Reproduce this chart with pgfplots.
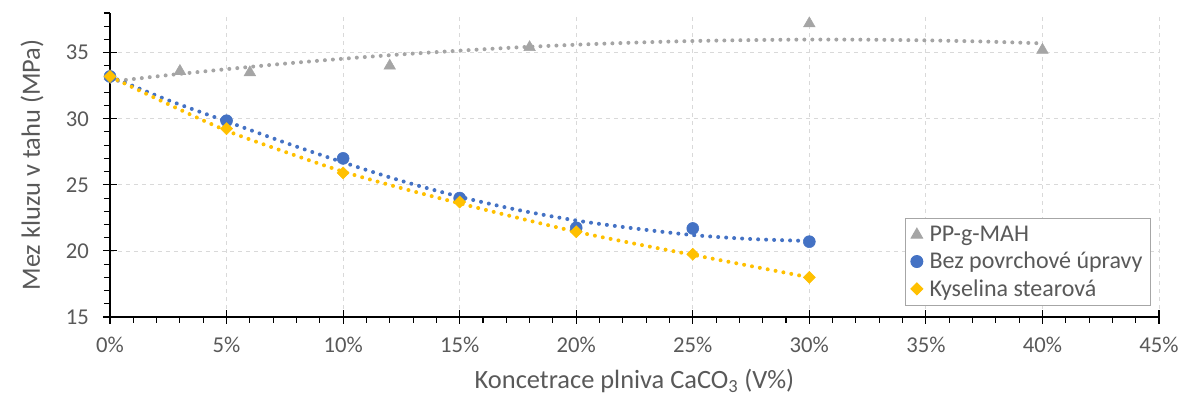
\documentclass[border=0pt]{standalone}
\usepackage{fontspec}
\setmainfont{Carlito}
\usepackage{pgfplots}
\pgfplotsset{compat=1.18}
\definecolor{cgrey}{HTML}{A5A5A5}
\definecolor{cblue}{HTML}{4472C4}
\definecolor{cyel}{HTML}{FFC000}
\definecolor{ctext}{HTML}{595959}
\definecolor{cgrid}{HTML}{D9D9D9}
\definecolor{cleg}{HTML}{A6A6A6}
\begin{document}
\begin{tikzpicture}
\path[use as bounding box] (-82.5pt,-59.25pt) rectangle (804pt,237.75pt);
\begin{axis}[
  at={(0pt,0pt)}, anchor=south west,
  scale only axis, width=786.75pt, height=228pt,
  xmin=0, xmax=45, ymin=15, ymax=38,
  axis lines=left,
  axis line style={-, black, line width=0.8pt},
  xtick={0,5,...,45}, ytick={15,20,...,35},
  minor xtick={0,1,...,45}, minor ytick={15,16,...,38},
  tick align=center,
  major tick length=10.5pt, minor tick length=4.5pt,
  every tick/.style={black, line width=0.8pt},
  minor x tick style={yshift=-2.25pt},
  minor y tick style={xshift=-2.25pt},
  grid=major,
  major grid style={cgrid, dashed, line width=0.6pt},
  /pgf/number format/assume math mode=true,
  xticklabel={\pgfmathprintnumber{\tick}\%},
  ticklabel style={font=\fontsize{17}{20}\selectfont, text=ctext},
  xticklabel style={yshift=-6pt},
  yticklabel style={xshift=-7pt},
  xlabel={Koncetrace plniva CaCO\textsubscript{3} (V\%)},
  ylabel={Mez kluzu v tahu (MPa)},
  every axis x label/.style={at={(axis description cs:0.5,0)}, yshift=-48pt, anchor=center,
    font=\fontsize{19.8}{22}\selectfont, text=ctext},
  every axis y label/.style={at={(axis description cs:0,0.5)}, xshift=-58.5pt, rotate=90, anchor=center,
    font=\fontsize{19.8}{22}\selectfont, text=ctext},
  legend style={at={(0.9924,0.0362)}, anchor=south east,
    font=\fontsize{18}{20}\selectfont, text=ctext, draw=cleg, line width=0.7pt,
    inner xsep=4pt, inner ysep=3.5pt, row sep=2.5pt},
  legend cell align=left,
]
% trend lines
\addplot[forget plot, cgrey, line width=3pt, line cap=round, dash pattern=on 0pt off 6pt, smooth] coordinates {
(0,32.80) (2.5,33.30) (5,33.75) (7.5,34.17) (10,34.54) (12.5,34.87) (15,35.15) (17.5,35.40)
(20,35.60) (22.5,35.76) (25,35.88) (27.5,35.95) (30,35.99) (32.5,35.98) (35,35.93) (37.5,35.84) (40,35.70)};
\addplot[forget plot, cblue, line width=3pt, line cap=round, dash pattern=on 0pt off 6pt, smooth] coordinates {
(0,33.2) (2.5,31.4) (5,29.8) (7.5,28.2) (10,26.7) (12.5,25.3) (15,24.1) (17.5,23.1)
(20,22.3) (22.5,21.7) (25,21.2) (27.5,20.9) (30,20.75)};
\addplot[forget plot, cyel, line width=3pt, line cap=round, dash pattern=on 0pt off 6pt, smooth] coordinates {
(0,33.2) (2.5,31.1) (5,29.1) (7.5,27.5) (10,26.0) (12.5,24.75) (15,23.6) (17.5,22.5)
(20,21.45) (22.5,20.55) (25,19.7) (27.5,18.85) (30,18.0)};
% markers
\addplot[only marks, mark=triangle*, mark size=5pt, color=cgrey] coordinates {
(0,33.2) (3,33.6) (6,33.5) (12,34.0) (18,35.4) (30,37.2) (40,35.2)};
\addlegendentry{\hspace{3pt}PP-g-MAH}
\addplot[only marks, mark=*, mark size=4.5pt, color=cblue] coordinates {
(0,33.2) (5,29.85) (10,27.0) (15,24.0) (20,21.75) (25,21.7) (30,20.7)};
\addlegendentry{\hspace{3pt}Bez povrchové úpravy}
\addplot[only marks, mark=square*, mark size=3.2pt, mark options={rotate=45}, color=cyel] coordinates {
(0,33.2) (5,29.25) (10,25.9) (15,23.7) (20,21.45) (25,19.75) (30,18.0)};
\addlegendentry{\hspace{3pt}Kyselina stearová}
\end{axis}
\end{tikzpicture}
\end{document}
